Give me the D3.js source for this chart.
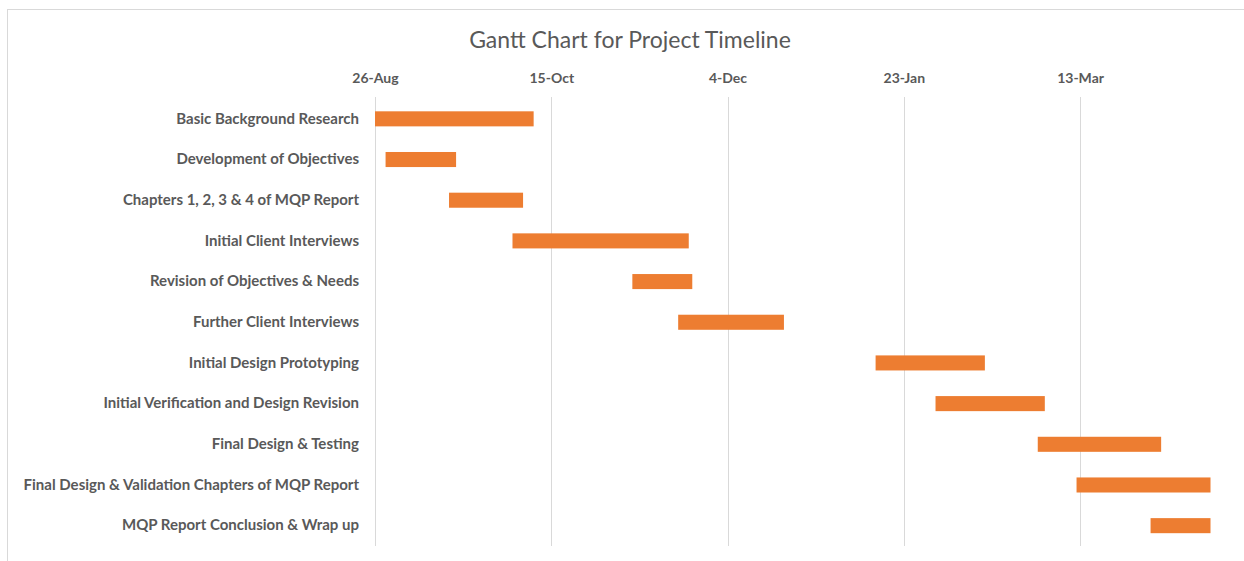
<!DOCTYPE html>
<html>
<head>
<meta charset="utf-8">
<script src="https://cdn.jsdelivr.net/npm/d3@7"></script>
<style>
  body { margin: 0; background: #fff; }
  text { font-family: Lato, "Open Sans", sans-serif; fill: #595959; }
</style>
</head>
<body>
<div id="chart"></div>
<script>
//task names, top to bottom
var tasks = [
  "Basic Background Research",
  "Development of Objectives",
  "Chapters 1, 2, 3 & 4 of MQP Report",
  "Initial Client Interviews",
  "Revision of Objectives & Needs",
  "Further Client Interviews",
  "Initial Design Prototyping",
  "Initial Verification and Design Revision",
  "Final Design & Testing",
  "Final Design & Validation Chapters of MQP Report",
  "MQP Report Conclusion & Wrap up"
];

//start date of every task
var startDates = [
  "2019-08-26", "2019-08-29", "2019-09-16", "2019-10-04", "2019-11-07", "2019-11-20",
  "2020-01-15", "2020-02-01", "2020-03-01", "2020-03-12", "2020-04-02"
];

//duration in days
var durations = [45, 20, 21, 50, 17, 30, 31, 31, 35, 38, 17];

//axis ticks (every 50 days)
var tickDates = ["2019-08-26", "2019-10-15", "2019-12-04", "2020-01-23", "2020-03-13"];

//axis range
var axisMin = "2019-08-26";
var axisMax = "2020-04-19";

var parseDate = d3.timeParse("%Y-%m-%d");

var data = tasks.map(function(t, i) {
  var s = parseDate(startDates[i]);
  return { task: t, start: s, end: d3.timeDay.offset(s, durations[i]) };
});

var width = 1244;
var height = 561;

var svg = d3
  .select("#chart")
  .append("svg")
  .attr("width", width)
  .attr("height", height);

//chart border
svg
  .append("rect")
  .attr("x", 7.5)
  .attr("y", 9.5)
  .attr("width", width + 10)
  .attr("height", height + 10)
  .attr("fill", "none")
  .attr("stroke", "#d9d9d9");

//scales
var xScale = d3
  .scaleTime()
  .domain([parseDate(axisMin), parseDate(axisMax)])
  .range([375, 1210.5]);

var yScale = d3
  .scaleBand()
  .domain(tasks)
  .range([98.5, 546])
  .paddingInner(0.63)
  .paddingOuter(0.315);

//title
svg
  .append("text")
  .attr("x", 630)
  .attr("y", 48)
  .attr("text-anchor", "middle")
  .style("font-size", "23px")
  .text("Gantt Chart for Project Timeline");

//x axis at top
var xAxis = d3
  .axisTop(xScale)
  .tickValues(tickDates.map(parseDate))
  .tickFormat(d3.timeFormat("%-d-%b"))
  .tickSize(0)
  .tickPadding(0);

var gx = svg
  .append("g")
  .attr("class", "x axis")
  .attr("transform", "translate(0," + 83 + ")")
  .call(xAxis);

gx.select(".domain").remove();
gx.selectAll("text")
  .style("font-size", "14px")
  .style("font-weight", "bold")
  .style("fill", "#595959");

//gridlines
svg
  .selectAll(".grid")
  .data(tickDates.map(parseDate))
  .enter()
  .append("line")
  .attr("class", "grid")
  .attr("x1", function(d) { return Math.round(xScale(d)) + 0.5; })
  .attr("x2", function(d) { return Math.round(xScale(d)) + 0.5; })
  .attr("y1", 97)
  .attr("y2", 546)
  .style("stroke", "#d9d9d9")
  .style("stroke-width", 1);

//y axis labels
var yAxis = d3.axisLeft(yScale).tickSize(0).tickPadding(0);

var gy = svg
  .append("g")
  .attr("class", "y axis")
  .attr("transform", "translate(" + 359 + ",0)")
  .call(yAxis);

gy.select(".domain").remove();
gy.selectAll("text")
  .style("font-size", "15px")
  .style("font-weight", "bold")
  .style("fill", "#595959");

//bars
svg
  .selectAll(".bar")
  .data(data)
  .enter()
  .append("rect")
  .attr("class", "bar")
  .attr("x", function(d) { return xScale(d.start); })
  .attr("y", function(d) { return yScale(d.task); })
  .attr("width", function(d) { return xScale(d.end) - xScale(d.start); })
  .attr("height", yScale.bandwidth())
  .attr("fill", "#ed7d31");
</script>
</body>
</html>
